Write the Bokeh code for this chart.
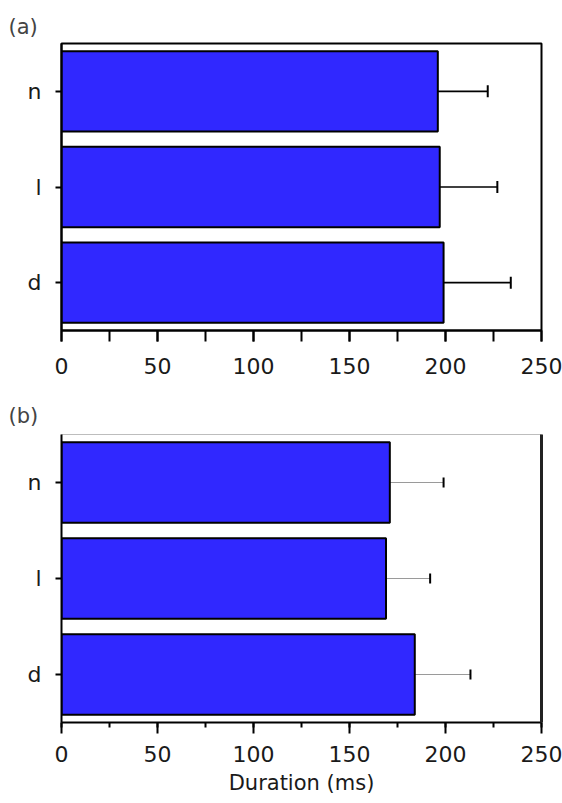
from bokeh.plotting import figure
from bokeh.models import (ColumnDataSource, FactorRange, Range1d, Whisker, TeeHead,
                          SingleIntervalTicker, LinearAxis, Title)
from bokeh.layouts import column
from bokeh.embed import file_html
from bokeh.resources import INLINE

# ---- data ----
categories = ["n", "l", "d"]
a_mean = [196, 197, 199]
a_err = [26, 30, 35]
b_mean = [171, 169, 184]
b_err = [28, 23, 29]
x_ticks = [0, 50, 100, 150, 200, 250]

FONT = "DejaVu Sans"
BAR_COLOR = "#3028FF"


def make_panel(tag, means, errs, height, top, bottom, bold_frame, show_xlabel,
               title_standoff, label_standoff):
    uppers = [m + e for m, e in zip(means, errs)]
    src = ColumnDataSource(dict(cat=categories, mean=means, upper=uppers))
    p = figure(width=562, height=height, output_backend="svg", toolbar_location=None,
               y_range=FactorRange(factors=categories[::-1]),
               x_range=Range1d(x_ticks[0], x_ticks[-1]),
               min_border_left=61, min_border_right=21,
               min_border_top=top, min_border_bottom=bottom)
    p.title = Title(text=tag, align="left", offset=-53, text_font=FONT,
                    text_font_size="21px", text_font_style="normal", standoff=title_standoff)
    p.hbar(y="cat", left=0, right="mean", height=0.84, source=src,
           fill_color=BAR_COLOR, line_color="black", line_width=2)
    if bold_frame:
        w = Whisker(base="cat", lower="mean", upper="upper", dimension="width", source=src,
                    line_color="black", line_width=1.6, lower_head=None,
                    upper_head=TeeHead(size=12, line_color="black", line_width=2))
    else:
        w = Whisker(base="cat", lower="mean", upper="upper", dimension="width", source=src,
                    line_color="#9a9a9a", line_width=1, lower_head=None,
                    upper_head=TeeHead(size=10, line_color="black", line_width=2))
    p.add_layout(w)

    p.xgrid.visible = False
    p.ygrid.visible = False
    p.background_fill_color = "white"
    p.border_fill_color = "white"
    p.outline_line_color = "black" if bold_frame else "#bdbdbd"
    p.outline_line_width = 2 if bold_frame else 1
    p.outline_line_alpha = 1

    xa = p.xaxis[0]
    xa.ticker = SingleIntervalTicker(interval=50, num_minor_ticks=2)
    xa.axis_line_width = 2
    xa.axis_line_color = "black"
    xa.major_tick_line_width = 2
    xa.minor_tick_line_width = 2
    xa.major_tick_in = 0
    xa.minor_tick_in = 0
    xa.major_tick_out = 11
    xa.minor_tick_out = 11 if bold_frame else 5
    xa.major_label_text_font = FONT
    xa.major_label_text_font_size = "22px"
    xa.major_label_text_color = "#1a1a1a"
    xa.major_label_standoff = label_standoff
    if show_xlabel:
        xa.axis_label = "Duration (ms)"
        xa.axis_label_text_font = FONT
        xa.axis_label_text_font_size = "21px"
        xa.axis_label_text_font_style = "normal"
        xa.axis_label_text_color = "#1a1a1a"
        xa.axis_label_standoff = 6

    ya = p.yaxis[0]
    ya.axis_line_width = 2
    ya.axis_line_color = "black"
    ya.major_tick_line_width = 2
    ya.major_tick_in = 0
    ya.major_tick_out = 6
    ya.major_label_text_font = FONT
    ya.major_label_text_font_size = "22px"
    ya.major_label_text_color = "#1a1a1a"
    ya.major_label_standoff = 14

    if not bold_frame:
        ra = LinearAxis(axis_line_width=3, axis_line_color="#222222",
                        major_tick_line_color=None, minor_tick_line_color=None,
                        major_label_text_font_size="0px",
                        major_label_text_alpha=0)
        p.add_layout(ra, "right")
    return p


pa = make_panel("(a)", a_mean, a_err, 395, 43, 65, True, False, 9, 16)
pb = make_panel("(b)", b_mean, b_err, 408, 39, 81, False, True, 13, 12)

layout = column(pa, pb, spacing=0)
open("out.html", "w").write(file_html(layout, INLINE))
